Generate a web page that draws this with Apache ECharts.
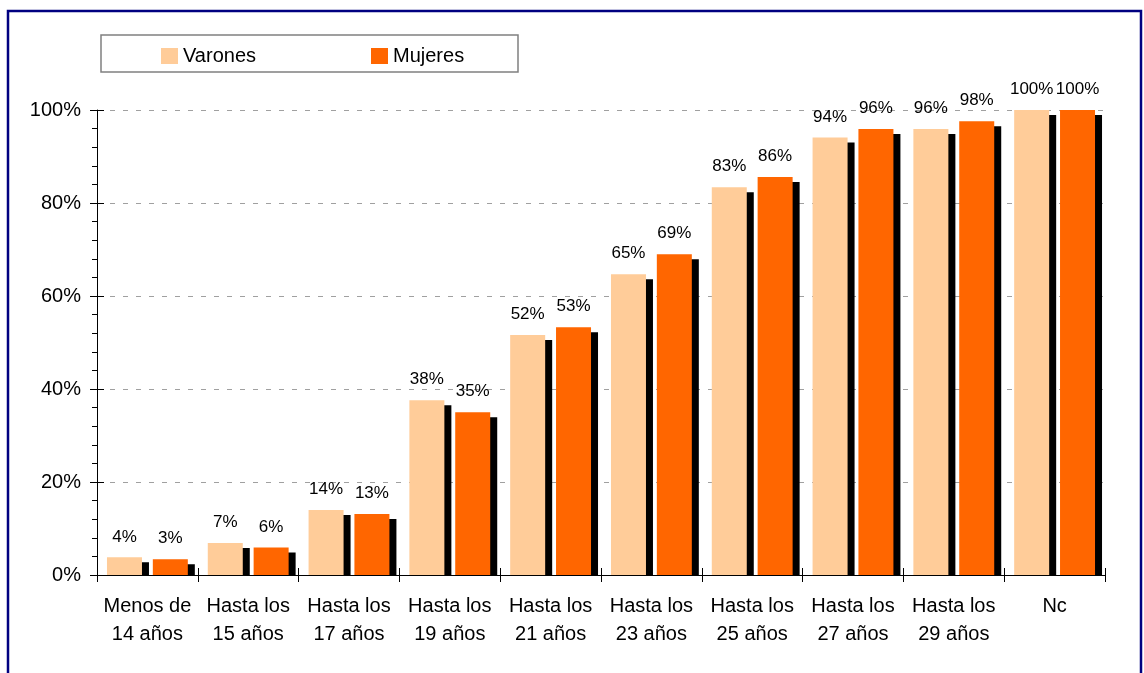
<!DOCTYPE html>
<html>
<head>
<meta charset="utf-8">
<script src="https://cdn.jsdelivr.net/npm/echarts@6/dist/echarts.min.js"></script>
<style>
  html, body { margin: 0; padding: 0; background: #fff; }
  #container { width: 1144px; height: 673px; }
</style>
</head>
<body>
<div id="container"></div>
<script>
var categories = ['Menos de\n14 años', 'Hasta los\n15 años', 'Hasta los\n17 años', 'Hasta los\n19 años',
    'Hasta los\n21 años', 'Hasta los\n23 años', 'Hasta los\n25 años', 'Hasta los\n27 años',
    'Hasta los\n29 años', 'Nc'];
var varones = [3.8, 6.9, 14.0, 37.6, 51.6, 64.7, 83.4, 94.1, 95.9, 100];
var mujeres = [3.4, 5.9, 13.1, 35.0, 53.3, 69.0, 85.6, 95.9, 97.6, 100];
var yTicks = [0, 20, 40, 60, 80, 100];

var dom = document.getElementById('container');
var myChart = echarts.init(dom);
var font = 'Liberation Sans, Arial, sans-serif';
var barW = 35, gapPct = 31;

// black offset block behind every bar (Excel-style shadow)
function shadowSeries(name, values, side) {
    return {
        name: name + ' sombra',
        type: 'custom',
        z: 1,
        silent: true,
        data: values.map(function (v, i) { return [i, v]; }),
        renderItem: function (params, api) {
            var top = api.coord([api.value(0), api.value(1)]);
            var base = api.coord([api.value(0), 0]);
            var gap = barW * gapPct / 100;
            var left = side === 0 ? top[0] - barW - gap / 2 : top[0] + gap / 2;
            var y = top[1] + 5;
            return {
                type: 'rect',
                shape: { x: left + 7, y: y, width: barW, height: Math.max(0, base[1] - y) },
                style: { fill: '#000' }
            };
        }
    };
}

function barSeries(name, values, color) {
    return {
        name: name,
        type: 'bar',
        z: 2,
        barWidth: barW,
        barGap: gapPct + '%',
        data: values,
        itemStyle: { color: color },
        label: {
            show: true,
            position: 'top',
            distance: 12,
            color: '#000',
            fontSize: 17,
            fontFamily: font,
            formatter: function (p) { return Math.round(p.value) + '%'; }
        }
    };
}

option = {
    animation: false,
    grid: { left: 97, right: 39, top: 110, bottom: 98 },
    legend: [
        { data: ['Varones'], left: 161, top: 46, padding: 0, itemWidth: 17, itemHeight: 16,
          icon: 'rect', textStyle: { fontSize: 20, fontFamily: font, color: '#000' } },
        { data: ['Mujeres'], left: 371, top: 46, padding: 0, itemWidth: 17, itemHeight: 16,
          icon: 'rect', textStyle: { fontSize: 20, fontFamily: font, color: '#000' } }
    ],
    graphic: [
        { type: 'rect', z: -1, shape: { x: 101, y: 35, width: 417, height: 37 },
          style: { fill: '#fff', stroke: '#808080', lineWidth: 1.5 } },
        { type: 'rect', z: 100, shape: { x: 8, y: 11, width: 1133, height: 700 },
          style: { fill: 'none', stroke: '#000080', lineWidth: 2.5 } }
    ],
    xAxis: [
        {
            type: 'category',
            data: categories,
            axisLine: { lineStyle: { color: '#000', width: 1 } },
            axisTick: { show: true, length: 7, lineStyle: { color: '#000' } },
            axisLabel: { color: '#000', fontSize: 20, fontFamily: font, lineHeight: 28.5, margin: 17, interval: 0 }
        },
        {
            type: 'category',
            data: categories,
            position: 'bottom',
            axisLine: { show: false },
            axisTick: { show: true, inside: true, length: 7, lineStyle: { color: '#000' } },
            axisLabel: { show: false }
        }
    ],
    yAxis: [
        {
            type: 'value',
            min: 0,
            max: 100,
            interval: 20,
            axisLine: { show: true, lineStyle: { color: '#000' } },
            axisTick: { show: true, length: 7, lineStyle: { color: '#000' } },
            minorTick: { show: true, splitNumber: 5, length: 5, lineStyle: { color: '#000' } },
            splitLine: { show: true, lineStyle: { color: '#a0a0a0', type: [5, 8] } },
            axisLabel: {
                color: '#000', fontSize: 20, fontFamily: font, margin: 16,
                formatter: function (v) { return yTicks.indexOf(v) >= 0 ? v + '%' : ''; }
            }
        },
        {
            type: 'value',
            min: 0,
            max: 100,
            interval: 20,
            position: 'left',
            axisLine: { show: false },
            axisTick: { show: true, inside: true, length: 7, lineStyle: { color: '#000' } },
            splitLine: { show: false },
            axisLabel: { show: false }
        }
    ],
    series: [
        shadowSeries('Varones', varones, 0),
        shadowSeries('Mujeres', mujeres, 1),
        barSeries('Varones', varones, '#FFCC99'),
        barSeries('Mujeres', mujeres, '#FF6600')
    ]
};

if (option && typeof option === 'object') {
    myChart.setOption(option, true);
}
</script>
</body>
</html>
